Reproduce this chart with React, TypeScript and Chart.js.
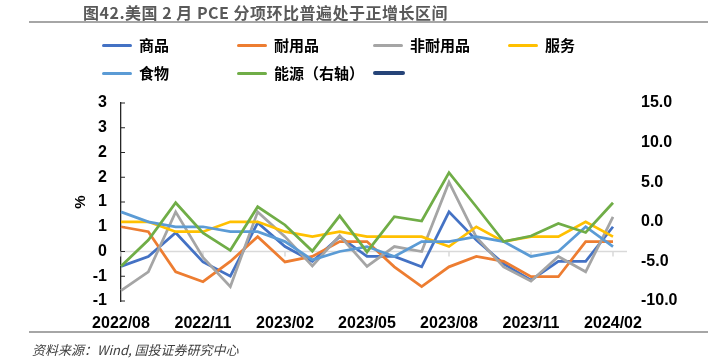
import React, { useEffect, useRef } from 'react';
import { Chart, registerables } from 'chart.js';

Chart.register(...registerables);

const months = [
  '2022/08', '2022/09', '2022/10', '2022/11', '2022/12', '2023/01', '2023/02',
  '2023/03', '2023/04', '2023/05', '2023/06', '2023/07', '2023/08', '2023/09',
  '2023/10', '2023/11', '2023/12', '2024/01', '2024/02',
];

const goods = [-0.3, -0.1, 0.38, -0.21, -0.5, 0.58, 0.1, -0.2, 0.3, -0.1, -0.1, -0.31, 0.8, 0.23, -0.25, -0.58, -0.2, -0.2, 0.5];
const durable = [0.5, 0.4, -0.41, -0.61, -0.2, 0.3, -0.21, -0.1, 0.2, 0.2, -0.31, -0.71, -0.31, -0.1, -0.2, -0.51, -0.51, 0.2, 0.2];
const nondurable = [-0.79, -0.41, 0.8, -0.12, -0.71, 0.8, 0.3, -0.29, 0.32, -0.3, 0.1, 0, 1.4, 0.29, -0.31, -0.6, -0.1, -0.41, 0.7];
const services = [0.6, 0.6, 0.4, 0.4, 0.6, 0.6, 0.4, 0.3, 0.4, 0.3, 0.3, 0.3, 0.1, 0.5, 0.2, 0.3, 0.3, 0.6, 0.3];
const food = [0.8, 0.6, 0.5, 0.5, 0.4, 0.4, 0.2, -0.17, 0, 0.1, -0.1, 0.2, 0.2, 0.3, 0.2, -0.1, 0, 0.5, 0.1];
const energy = [-5.6, -2.3, 2.4, -1.4, -3.6, 1.9, -0.4, -3.7, 0.75, -3.8, 0.65, 0.1, 6.2, 1.9, -2.5, -1.8, -0.2, -1.35, 2.4];
const emptySeries: (number | null)[] = [];

const leftTickLabels = ['-1', '-1', '0', '1', '1', '2', '2', '3', '3'];
const rightTickLabels = ['-10.0', '-5.0', '0.0', '5.0', '10.0', '15.0'];

const seriesNames = ['商品', '耐用品', '非耐用品', '服务', '食物', '能源（右轴）', ''];
const seriesColors = ['#4472C4', '#ED7D31', '#A5A5A5', '#FFC000', '#5B9BD5', '#70AD47', '#264478'];
const seriesData = [goods, durable, nondurable, services, food, energy, emptySeries];
const seriesAxis = ['y', 'y', 'y', 'y', 'y', 'y1', 'y'];

const TITLE = '图42.美国 2 月 PCE 分项环比普遍处于正增长区间';
const SOURCE = '资料来源：Wind, 国投证券研究中心';

const decorPlugin = {
  id: 'decor',
  beforeDatasetsDraw(chart: any) {
    const { ctx, chartArea, scales } = chart;
    const y = scales.y;
    const x = scales.x;
    const y0 = y.getPixelForValue(0);
    ctx.save();
    ctx.strokeStyle = '#D9D9D9';
    ctx.lineWidth = 1.5;
    ctx.beginPath();
    ctx.moveTo(chartArea.left, y0);
    ctx.lineTo(chartArea.right + 14, y0);
    for (let i = 0; i < months.length; i += 3) {
      const px = x.getPixelForValue(i);
      ctx.moveTo(px, y0);
      ctx.lineTo(px, y0 + 5);
    }
    ctx.stroke();
    ctx.strokeStyle = '#262626';
    ctx.lineWidth = 1.2;
    ctx.beginPath();
    y.ticks.forEach((_t: any, idx: number) => {
      const py = y.getPixelForTick(idx);
      ctx.moveTo(chartArea.left, py);
      ctx.lineTo(chartArea.left + 4, py);
    });
    ctx.stroke();
    ctx.restore();
  },
};

const tickFont = { family: '"Liberation Sans", Arial, sans-serif', size: 16, weight: 'bold' as const };

export default function App() {
  const canvasRef = useRef<HTMLCanvasElement | null>(null);

  useEffect(() => {
    if (!canvasRef.current) return;
    const datasets = seriesNames.map((name, i) => ({
      label: name,
      data: seriesData[i],
      borderColor: seriesColors[i],
      backgroundColor: seriesColors[i],
      borderWidth: 2.75,
      pointRadius: 0,
      pointHoverRadius: 0,
      tension: 0,
      fill: false,
      yAxisID: seriesAxis[i],
      order: seriesNames.length - i,
    }));
    const chart = new Chart(canvasRef.current, {
      type: 'line',
      data: { labels: months, datasets },
      plugins: [decorPlugin],
      options: {
        responsive: false,
        animation: false,
        layout: { padding: { top: 103, left: 0, right: 0, bottom: 0 } },
        plugins: { legend: { display: false }, tooltip: { enabled: false }, title: { display: false } },
        scales: {
          x: {
            type: 'category',
            grid: { display: false },
            border: { display: false },
            ticks: {
              autoSkip: false,
              maxRotation: 0,
              minRotation: 0,
              padding: 5,
              color: '#000',
              font: tickFont,
              callback: (_v: any, i: number) => (i % 3 === 0 ? months[i] : ''),
            },
            afterFit: (s: any) => { s.height = 59; },
          },
          y: {
            position: 'left',
            min: -1,
            max: 3,
            grid: { display: true, drawOnChartArea: false, drawTicks: false },
            border: { display: true, color: '#262626', width: 1.3 },
            ticks: {
              stepSize: 0.5,
              padding: 14,
              color: '#000',
              font: tickFont,
              callback: (_v: any, i: number) => leftTickLabels[i],
            },
            title: {
              display: true,
              text: '%',
              color: '#000',
              font: { family: '"Liberation Sans", Arial, sans-serif', size: 15, weight: 'bold' },
              padding: { top: 72, bottom: 0 },
            },
            afterFit: (s: any) => { s.width = 121; },
          },
          y1: {
            position: 'right',
            min: -10,
            max: 15,
            grid: { display: true, drawOnChartArea: false, drawTicks: false },
            border: { display: false },
            ticks: {
              stepSize: 5,
              padding: 28,
              color: '#000',
              font: tickFont,
              callback: (_v: any, i: number) => rightTickLabels[i],
            },
            afterFit: (s: any) => { s.width = 101; },
          },
        },
      },
    } as any);
    return () => chart.destroy();
  }, []);

  const cjk = '"Noto Sans CJK SC", "Noto Sans", sans-serif';
  const colX = [102, 237, 373, 508];
  const rowY = [45, 73];

  return (
    <div style={{ position: 'fixed', left: 0, top: 0, width: 714, height: 360, background: '#fff', overflow: 'hidden' }}>
      <canvas ref={canvasRef} width={714} height={360} style={{ position: 'absolute', left: 0, top: 0, width: 714, height: 360 }} />
      <div style={{ position: 'absolute', left: 83, top: 1, height: 22, lineHeight: '22px', fontFamily: cjk, fontSize: 16, fontWeight: 700, letterSpacing: '0.5px', color: '#595959', whiteSpace: 'nowrap' }}>
        {TITLE}
      </div>
      <div style={{ position: 'absolute', left: 29, top: 21, width: 679, height: 2, background: '#A6A6A6' }} />
      {seriesNames.map((name, i) => {
        const col = i < 4 ? i : i - 4;
        const row = i < 4 ? 0 : 1;
        return (
          <div key={i} style={{ position: 'absolute', left: colX[col], top: rowY[row] - 11, height: 22, display: 'flex', alignItems: 'center', whiteSpace: 'nowrap' }}>
            <div style={{ width: name ? 30 : 32, height: name ? 3 : 4, borderRadius: 2, background: seriesColors[i] }} />
            {name ? (
              <span style={{ marginLeft: 7, fontFamily: cjk, fontSize: 15, fontWeight: 700, color: '#000', lineHeight: '22px' }}>{name}</span>
            ) : null}
          </div>
        );
      })}
      <div style={{ position: 'absolute', left: 29, top: 331, width: 679, height: 2, background: '#A6A6A6' }} />
      <div style={{ position: 'absolute', left: 32, top: 341, height: 18, lineHeight: '18px', fontFamily: cjk, fontSize: 13, fontStyle: 'italic', color: '#404040', whiteSpace: 'nowrap' }}>
        {SOURCE}
      </div>
    </div>
  );
}
